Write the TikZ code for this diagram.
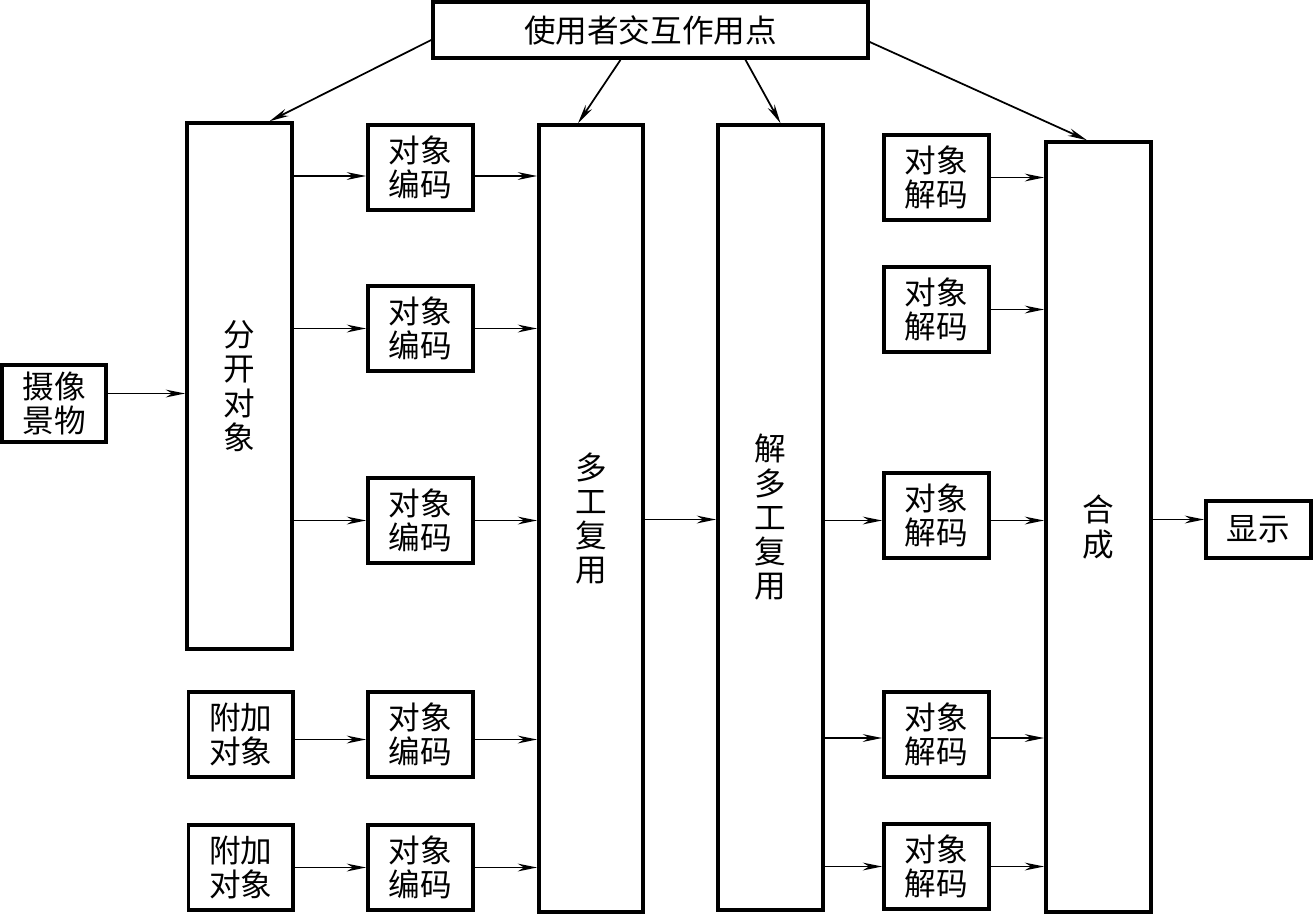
\documentclass[tikz,border=0pt]{standalone}
\usepackage{fontspec}
\newfontfamily\cjk{Noto Sans CJK SC}
\usepackage{tikz}
\usetikzlibrary{arrows.meta, positioning, calc}
\tikzset{
    block/.style={draw, line width=2.1pt, inner sep=0pt, align=center,
      font=\cjk\fontsize{18}{19.5}\selectfont},
    small/.style={block, minimum width=2.1cm, minimum height=1.7cm},
    tall/.style={block, minimum width=2.1cm},
    link/.style={-{Stealth[length=11pt, width=4.4pt, inset=3.5pt]}, line width=1pt},
}
\begin{document}
\begin{tikzpicture}[x=0.02cm, y=-0.02cm]
    \useasboundingbox (0,0) rectangle (1313,914);

    \node[block, minimum width=8.7cm, minimum height=1.12cm] (user) at (650.5,30) {使用者交互作用点};

    \node[block, minimum width=2.08cm, minimum height=1.54cm] (cam) at (54,403.5) {摄像\\景物};
    \node[tall, minimum height=10.52cm] (split) at (239.5,386) {分\\开\\对\\象};

    \node[small] (enc1) at (420.5,167.5) {对象\\编码};
    \node[small] (enc2) at (420.5,328.5) {对象\\编码};
    \node[small] (enc3) at (420.5,520.5) {对象\\编码};
    \node[small] (enc4) at (420.5,734.5) {对象\\编码};
    \node[small] (enc5) at (420.5,867.5) {对象\\编码};

    \node[small, left=1.42cm of enc4] (add1) {附加\\对象};
    \node[small, left=1.42cm of enc5] (add2) {附加\\对象};

    \node[tall, minimum width=2.08cm, minimum height=15.74cm] (mux) at (591,518.5) {多\\工\\复\\用};
    \node[tall, minimum height=15.7cm] (demux) at (770.5,517.5) {解\\多\\工\\复\\用};

    \node[small] (dec1) at (936.5,177.5) {对象\\解码};
    \node[small] (dec2) at (936.5,309.5) {对象\\解码};
    \node[small] (dec3) at (936.5,515.5) {对象\\解码};
    \node[small] (dec4) at (936.5,734.5) {对象\\解码};
    \node[small] (dec5) at (936.5,866.5) {对象\\解码};

    \node[tall, minimum height=15.4cm] (comp) at (1098.5,527) {合\\成};
    \node[block, minimum width=2.1cm, minimum height=1.14cm] (disp) at (1258.5,529.5) {显示};

    \draw[link] ([yshift=-0.2cm]user.west) -- ([xshift=0.6cm]split.north);
    \draw[link] ([xshift=-0.6cm]user.south) -- ([xshift=-0.26cm]mux.north);
    \draw[link] ([xshift=1.9cm]user.south) -- ([xshift=0.2cm]demux.north);
    \draw[link] ([yshift=-0.24cm]user.east) -- ([xshift=-0.23cm]comp.north);

    \draw[link] ([yshift=0.2cm]cam.east) -- ([yshift=0.2cm]cam.east -| split.west);

    \draw[link] ([yshift=-0.17cm]enc1.west -| split.east) -- ([yshift=-0.17cm]enc1.west);
    \draw[link] (enc2.west -| split.east) -- (enc2.west);
    \draw[link] (enc3.west -| split.east) -- (enc3.west);
    \draw[link] ([yshift=-0.1cm]add1.east) -- ([yshift=-0.1cm]enc4.west);
    \draw[link] (add2) -- (enc5);

    \draw[link] ([yshift=-0.17cm]enc1.east) -- ([yshift=-0.17cm]enc1.east -| mux.west);
    \draw[link] (enc2.east) -- (enc2.east -| mux.west);
    \draw[link] (enc3.east) -- (enc3.east -| mux.west);
    \draw[link] ([yshift=-0.1cm]enc4.east) -- ([yshift=-0.1cm]enc4.east -| mux.west);
    \draw[link] (enc5.east) -- (enc5.east -| mux.west);

    \draw[link] ([yshift=-0.02cm]mux.east) -- ([yshift=-0.02cm]mux.east -| demux.west);

    \draw[link] ([yshift=-0.1cm]dec3.west -| demux.east) -- ([yshift=-0.1cm]dec3.west);
    \draw[link] ([yshift=-0.07cm]dec4.west -| demux.east) -- ([yshift=-0.07cm]dec4.west);
    \draw[link] (dec5.west -| demux.east) -- (dec5.west);

    \draw[link] (dec1.east) -- (dec1.east -| comp.west);
    \draw[link] (dec2.east) -- (dec2.east -| comp.west);
    \draw[link] ([yshift=-0.1cm]dec3.east) -- ([yshift=-0.1cm]dec3.east -| comp.west);
    \draw[link] ([yshift=-0.07cm]dec4.east) -- ([yshift=-0.07cm]dec4.east -| comp.west);
    \draw[link] (dec5.east) -- (dec5.east -| comp.west);

    \draw[link] ([yshift=0.2cm]disp.west -| comp.east) -- ([yshift=0.2cm]disp.west);
\end{tikzpicture}
\end{document}
